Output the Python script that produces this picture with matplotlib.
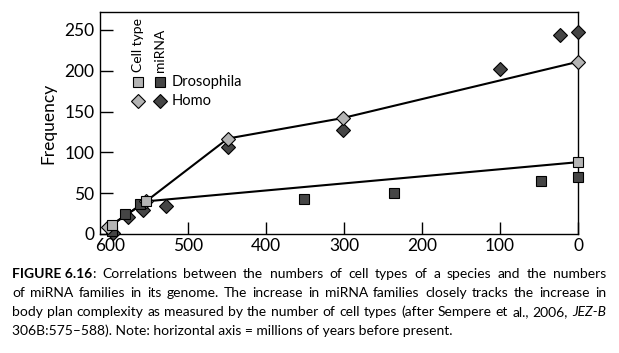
import matplotlib
matplotlib.use("Agg")
import matplotlib.pyplot as plt

plt.rcParams["font.family"] = ["Lato", "DejaVu Sans"]

# cell type counts (light) and miRNA families (dark), x = Myr before present
dro_cell_x = [598, 554, 0]
dro_cell_y = [11, 40, 88]
homo_cell_x = [603, 554, 449, 302, 0]
homo_cell_y = [8, 40, 117, 142, 211]
dro_mirna_x = [598, 581, 562, 351, 236, 47, 0]
dro_mirna_y = [4, 25, 37, 43, 50, 65, 70]
homo_mirna_x = [596, 577, 558, 529, 449, 302, 100, 23, 0]
homo_mirna_y = [1, 21, 30, 34, 106, 127, 202, 244, 247]

LIGHT = "#b4b4b4"
DARK = "#454545"

caption = [
    [[("FIGURE 6.16", "bold", "normal"), (":", "normal", "normal")],
     "Correlations", "between", "the", "numbers", "of", "cell", "types", "of", "a",
     "species", "and", "the", "numbers"],
    ["of", "miRNA", "families", "in", "its", "genome.", "The", "increase", "in", "miRNA",
     "families", "closely", "tracks", "the", "increase", "in"],
    ["body", "plan", "complexity", "as", "measured", "by", "the", "number", "of", "cell",
     "types", "(after", "Sempere", "et", "al.,", "2006,", [("JEZ-B", "normal", "italic")]],
]
caption_last = "306B:575\u2013588). Note: horizontal axis = millions of years before present."

W, H = 619, 353
fig = plt.figure(figsize=(W / 100, H / 100), dpi=100)
ax = fig.add_axes([100 / W, 1 - 234 / H, 478 / W, 222 / H])

ax.plot(homo_cell_x, homo_cell_y, color="black", lw=1.5, zorder=2)
ax.plot(dro_cell_x, dro_cell_y, color="black", lw=1.5, zorder=2)

sq = dict(marker="s", ms=7, mec="black", mew=0.8, ls="none", zorder=3, clip_on=False)
dm = dict(marker="D", ms=7, mec="black", mew=0.8, ls="none", zorder=3, clip_on=False)
ax.plot(homo_mirna_x, homo_mirna_y, mfc=DARK, **dm)
ax.plot(dro_mirna_x, dro_mirna_y, mfc=DARK, **sq)
ax.plot(homo_cell_x, homo_cell_y, mfc=LIGHT, **dm)
ax.plot(dro_cell_x, dro_cell_y, mfc=LIGHT, **sq)

ax.set_xlim(613, 0)
ax.set_ylim(0, 272)
ax.set_xticks([600, 500, 400, 300, 200, 100, 0])
ax.set_yticks([0, 50, 100, 150, 200, 250])
ax.tick_params(direction="in", length=9, width=1, labelsize=12.5, pad=4)
ax.tick_params(axis="x", pad=3)
for s in ax.spines.values():
    s.set_linewidth(1)
ax.set_ylabel("Frequency", fontsize=12.5, labelpad=6)

# legend drawn by hand: two marker columns with rotated headers
for x, head, col in [(0.080, "Cell type", LIGHT), (0.1245, "miRNA", DARK)]:
    ax.text(x, 0.7275, head, rotation=90, ha="center", va="bottom",
            fontsize=10, transform=ax.transAxes)
    ax.plot([x], [0.683], transform=ax.transAxes, mfc=col, **sq)
    ax.plot([x], [0.599], transform=ax.transAxes, mfc=col, **dm)
ax.text(0.150, 0.683, "Drosophila", fontsize=10.5, va="center", transform=ax.transAxes)
ax.text(0.150, 0.599, "Homo", fontsize=10.5, va="center", transform=ax.transAxes)

# justified caption
renderer = fig.canvas.get_renderer()
cap_fs = 10
left, right = 12, 606
base0, step = 278, 19


def seg_width(txt, weight, style):
    t = fig.text(0, 0, txt, fontsize=cap_fs, weight=weight, style=style)
    w = t.get_window_extent(renderer).width
    t.remove()
    return w


for i, line in enumerate(caption):
    words = [[(w, "normal", "normal")] if isinstance(w, str) else w for w in line]
    widths = [[seg_width(*s) for s in w] for w in words]
    total = sum(sum(w) for w in widths)
    gap = (right - left - total) / (len(words) - 1)
    x = left
    y = 1 - (base0 + i * step) / H
    for w, ws in zip(words, widths):
        for (txt, weight, style), sw in zip(w, ws):
            fig.text(x / W, y, txt, fontsize=cap_fs, weight=weight, style=style,
                     va="baseline")
            x += sw
        x += gap
fig.text(left / W, 1 - (base0 + 3 * step) / H, caption_last, fontsize=cap_fs,
         va="baseline")

fig.savefig("out.png", dpi=100)
